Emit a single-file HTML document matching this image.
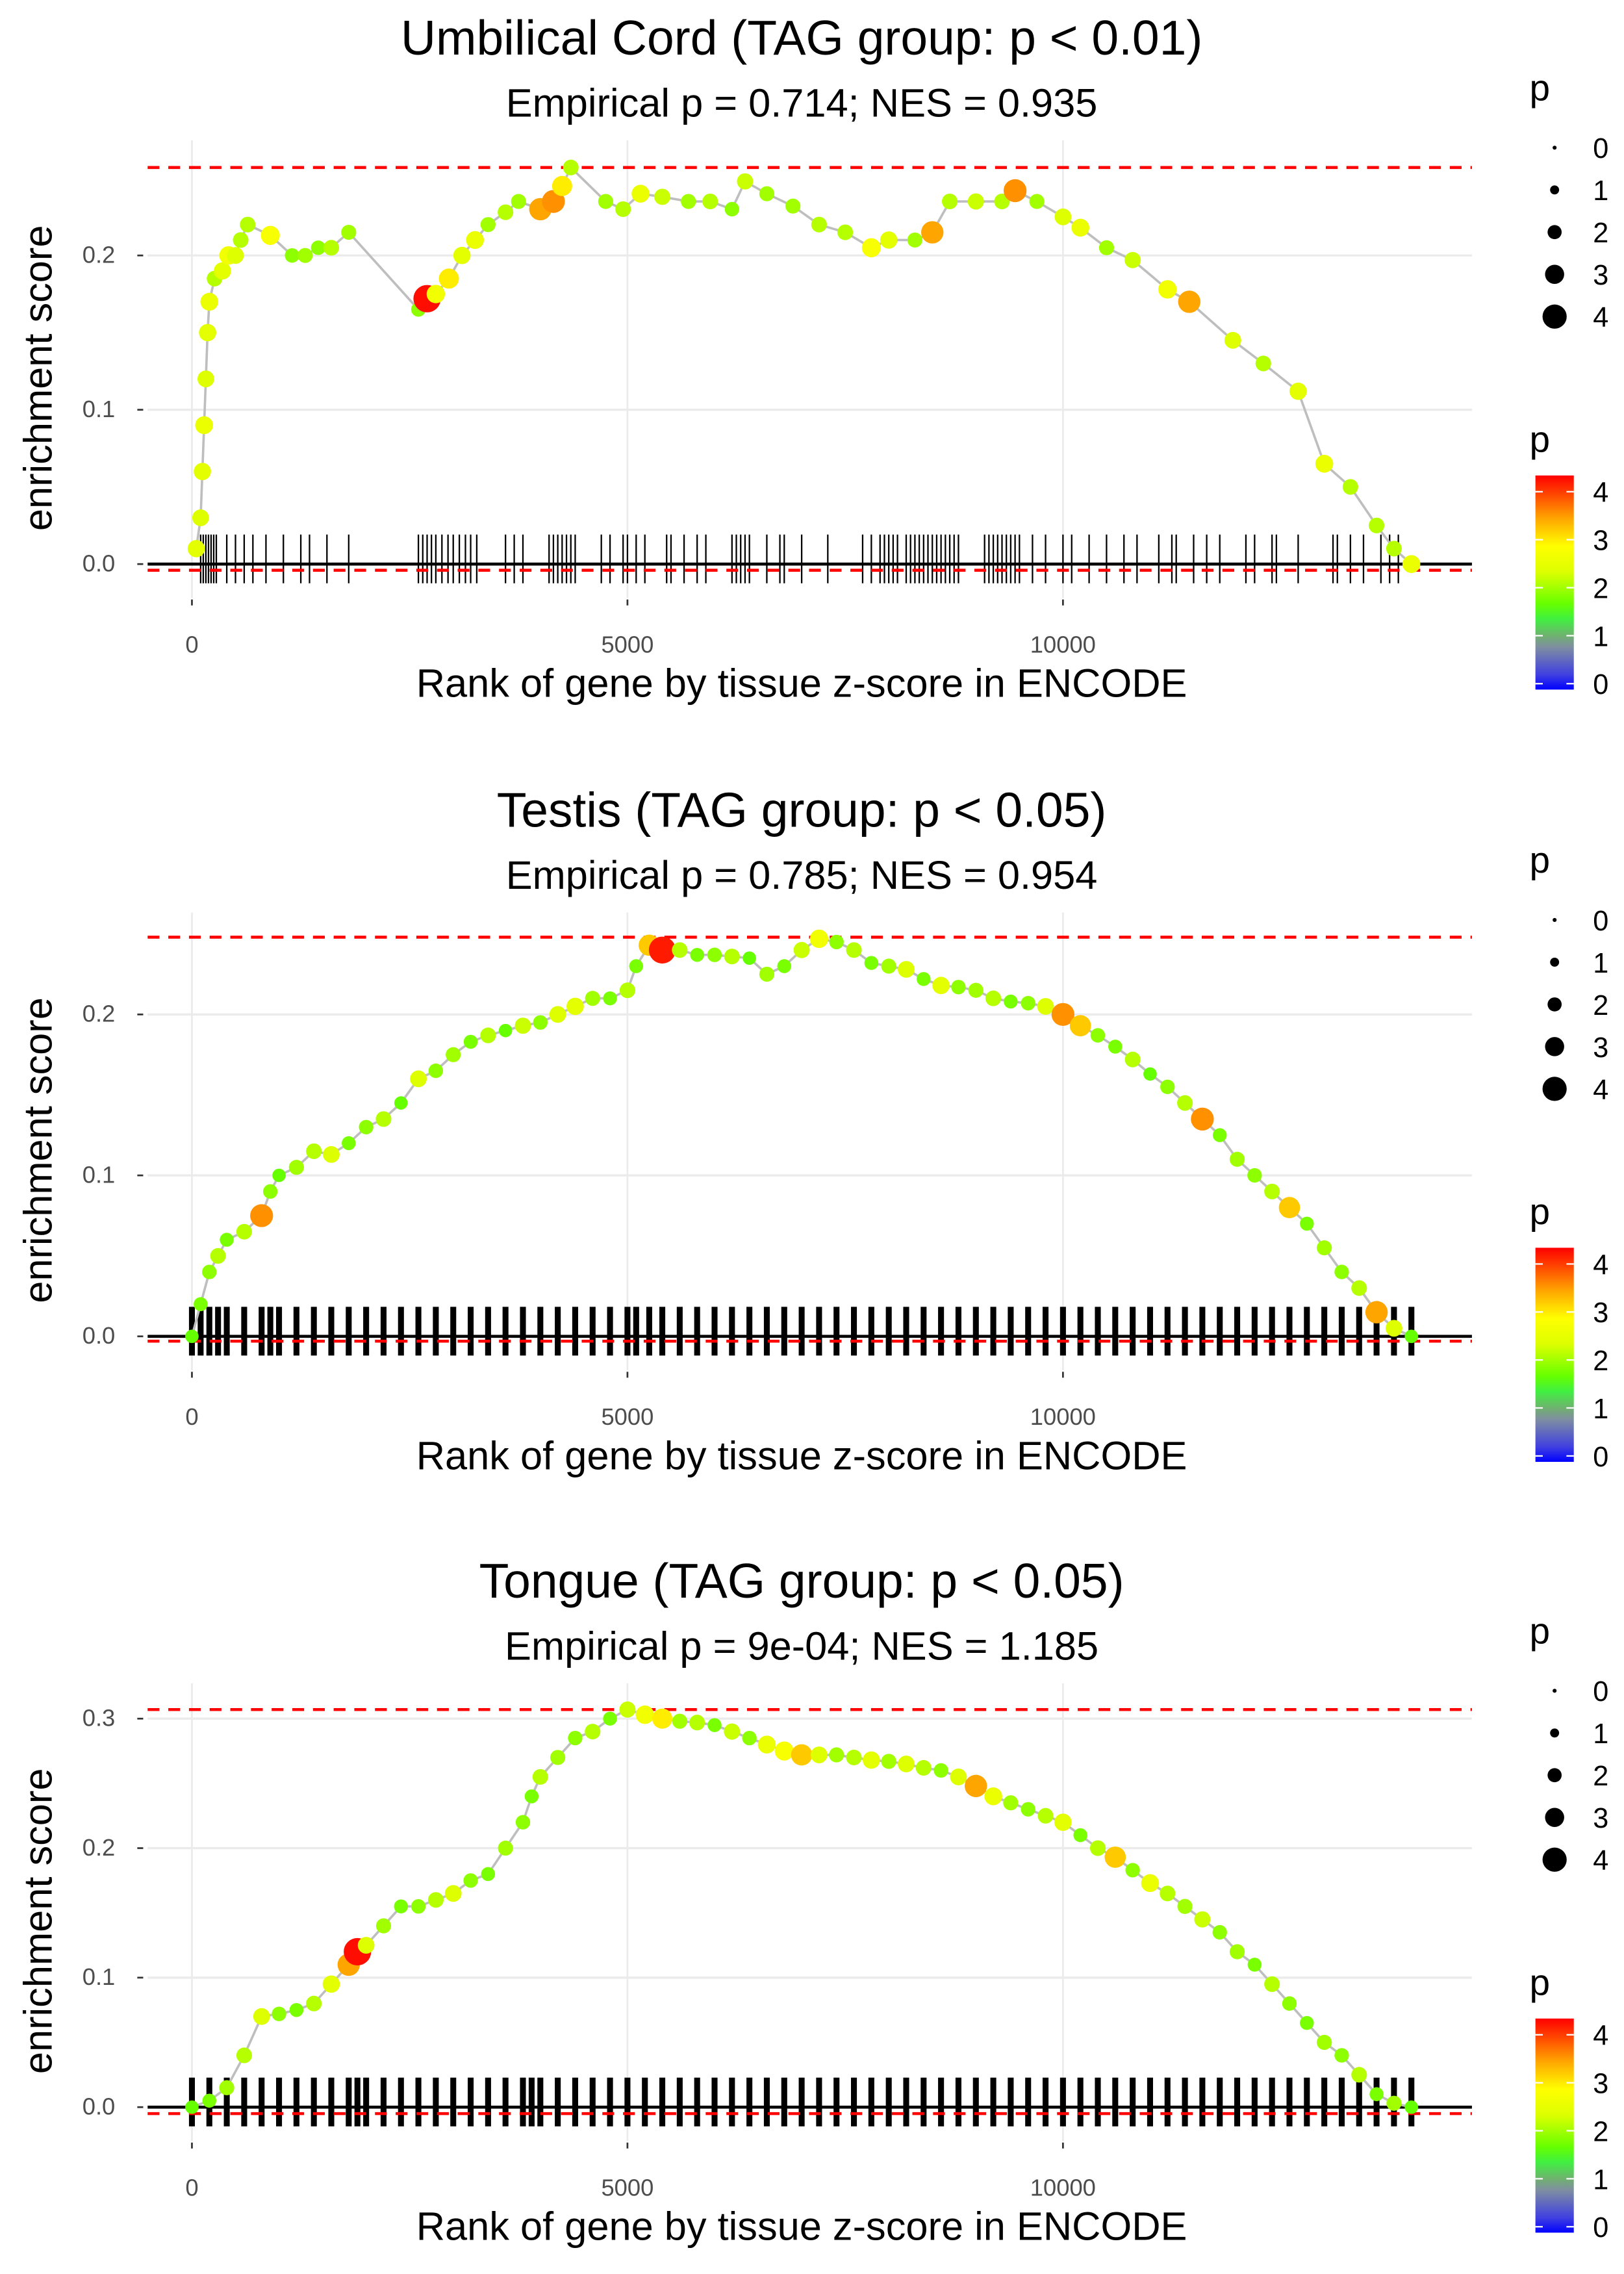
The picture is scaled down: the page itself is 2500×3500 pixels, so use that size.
<!DOCTYPE html>
<html><head><meta charset="utf-8"><style>
html,body{margin:0;padding:0;background:#fff;}
svg{display:block;font-family:"Liberation Sans",sans-serif;}
</style></head><body>
<svg id="chart" width="2500" height="3500" viewBox="0 0 1100 1540" preserveAspectRatio="none" xmlns="http://www.w3.org/2000/svg">
<defs>
<linearGradient id="pgrad" x1="0" y1="1" x2="0" y2="0">
<stop offset="0" stop-color="#0000ff"/>
<stop offset="0.07" stop-color="#4040e0"/>
<stop offset="0.2" stop-color="#7f8fa0"/>
<stop offset="0.25" stop-color="#70b070"/>
<stop offset="0.33" stop-color="#40f040"/>
<stop offset="0.4" stop-color="#66ff00"/>
<stop offset="0.55" stop-color="#ddff00"/>
<stop offset="0.67" stop-color="#ffff00"/>
<stop offset="0.8" stop-color="#ffa500"/>
<stop offset="0.92" stop-color="#ff4000"/>
<stop offset="1" stop-color="#ff0000"/>
</linearGradient>
</defs>
</svg>
<script>
// ---- Panel 1: Umbilical Cord ----
const ranks1=[50,100,120,140,160,180,200,260,350,420,500,560,640,900,1150,1300,1450,1600,1800,2600,2700,2800,2950,3100,3250,3400,3600,3750,4000,4150,4250,4350,4750,4950,5150,5400,5700,5950,6200,6350,6600,6900,7200,7500,7800,8000,8300,8500,8700,9000,9300,9450,9700,10000,10200,10500,10800,11200,11450,11950,12300,12700,13000,13300,13600,13800,14000];
const es1=[0.01,0.03,0.06,0.09,0.12,0.15,0.17,0.185,0.19,0.2,0.2,0.21,0.22,0.213,0.2,0.2,0.205,0.205,0.215,0.165,0.172,0.175,0.185,0.2,0.21,0.22,0.228,0.235,0.23,0.235,0.245,0.257,0.235,0.23,0.24,0.238,0.235,0.235,0.23,0.248,0.24,0.232,0.22,0.215,0.205,0.21,0.21,0.215,0.235,0.235,0.235,0.242,0.235,0.225,0.218,0.205,0.197,0.178,0.17,0.145,0.13,0.112,0.065,0.05,0.025,0.01,0.0];
const p1=[2.3,2.2,2.3,2.4,2.2,2.3,2.4,2.0,2.3,2.5,2.2,2.0,2.0,2.6,1.8,1.9,1.8,2.0,1.9,1.8,4.1,2.5,2.8,2.3,2.4,1.9,2.0,1.9,3.2,3.3,2.8,2.0,1.9,2.0,2.4,2.1,1.9,2.0,1.8,2.1,1.9,1.9,2.0,2.0,2.6,2.3,1.9,3.2,2.0,2.1,2.0,3.3,1.9,2.2,2.4,1.9,2.1,2.5,3.2,2.2,2.0,2.3,2.4,2.0,2.0,2.0,2.4];
const hits1=[100,130,160,190,220,250,280,400,500,600,700,850,1050,1250,1350,1550,1800,2600,2650,2700,2750,2800,2870,2940,3000,3070,3140,3200,3270,3600,3700,3800,4100,4150,4200,4250,4300,4350,4400,4700,4800,4950,5000,5100,5200,5450,5500,5650,5800,5900,6200,6250,6300,6350,6400,6600,6750,6800,7000,7300,7700,7800,7900,7950,8000,8050,8100,8200,8250,8300,8350,8400,8450,8500,8550,8600,8650,8700,8750,8800,9100,9150,9200,9250,9300,9350,9400,9450,9500,9650,9800,10000,10100,10300,10500,10700,10850,11100,11250,11300,11500,11650,11800,12100,12200,12400,12450,12700,13100,13150,13300,13450,13650,13750,13850];
const yTicks1=[0.0,0.1,0.2];
const bounds1=[-0.004,0.257];
// ---- Panel 2: Testis ----
const ranks2=[0,100,200,300,400,600,800,900,1000,1200,1400,1600,1800,2000,2200,2400,2600,2800,3000,3200,3400,3600,3800,4000,4200,4400,4600,4800,5000,5100,5250,5400,5600,5800,6000,6200,6400,6600,6800,7000,7200,7400,7600,7800,8000,8200,8400,8600,8800,9000,9200,9400,9600,9800,10000,10200,10400,10600,10800,11000,11200,11400,11600,11800,12000,12200,12400,12600,12800,13000,13200,13400,13600,13800,14000];
const es2=[0,0.02,0.04,0.05,0.06,0.065,0.075,0.09,0.1,0.105,0.115,0.113,0.12,0.13,0.135,0.145,0.16,0.165,0.175,0.183,0.187,0.19,0.193,0.195,0.2,0.205,0.21,0.21,0.215,0.23,0.243,0.24,0.24,0.237,0.237,0.236,0.235,0.225,0.23,0.24,0.247,0.245,0.24,0.232,0.23,0.228,0.222,0.218,0.217,0.215,0.21,0.208,0.207,0.205,0.2,0.193,0.187,0.18,0.172,0.163,0.155,0.145,0.135,0.125,0.11,0.1,0.09,0.08,0.07,0.055,0.04,0.03,0.015,0.005,0];
const p2=[1.6,1.7,1.8,2.0,1.7,2.0,3.3,1.8,1.6,1.9,2.0,2.2,1.7,1.8,2.0,1.6,2.2,1.8,1.9,1.7,2.0,1.6,2.1,1.8,2.2,2.3,1.9,1.7,2.0,1.7,3.0,4.0,2.0,1.7,1.8,2.0,1.6,1.9,1.7,2.1,2.5,1.8,2.0,1.7,1.9,2.2,1.7,2.3,1.8,1.9,2.0,1.7,1.8,2.2,3.3,3.0,1.8,1.7,2.0,1.6,1.8,2.0,3.3,1.7,1.9,1.8,2.0,3.0,1.7,1.9,1.8,2.0,3.2,2.2,1.6];
const yTicks2=[0.0,0.1,0.2];
const bounds2=[-0.003,0.248];
// ---- Panel 3: Tongue ----
const ranks3=[0,200,400,600,800,1000,1200,1400,1600,1800,1900,2000,2200,2400,2600,2800,3000,3200,3400,3600,3800,3900,4000,4200,4400,4600,4800,5000,5200,5400,5600,5800,6000,6200,6400,6600,6800,7000,7200,7400,7600,7800,8000,8200,8400,8600,8800,9000,9200,9400,9600,9800,10000,10200,10400,10600,10800,11000,11200,11400,11600,11800,12000,12200,12400,12600,12800,13000,13200,13400,13600,13800,14000];
const es3=[0,0.005,0.015,0.04,0.07,0.072,0.075,0.08,0.095,0.11,0.12,0.125,0.14,0.155,0.155,0.16,0.165,0.175,0.18,0.2,0.22,0.24,0.255,0.27,0.285,0.29,0.3,0.307,0.303,0.3,0.298,0.297,0.295,0.29,0.285,0.28,0.275,0.272,0.272,0.272,0.27,0.268,0.267,0.265,0.262,0.26,0.255,0.248,0.24,0.235,0.23,0.225,0.22,0.21,0.2,0.193,0.183,0.173,0.165,0.155,0.145,0.135,0.12,0.11,0.095,0.08,0.065,0.05,0.04,0.025,0.01,0.003,0];
const p3=[1.6,1.7,1.9,2.0,2.2,1.8,1.7,2.0,2.3,3.2,4.1,2.2,1.9,1.7,1.8,2.0,2.2,1.8,1.7,1.9,1.8,1.7,2.0,1.9,1.8,2.0,1.7,2.1,2.5,2.8,1.9,2.0,1.7,2.1,1.8,2.4,2.6,3.0,2.2,1.9,2.0,2.3,1.9,2.2,2.0,1.8,2.2,3.2,2.4,1.9,1.8,2.0,2.3,1.7,2.0,3.0,1.8,2.4,2.0,1.9,2.1,1.8,1.9,1.7,2.0,1.8,1.7,1.9,1.8,2.0,1.7,1.9,1.6];
const yTicks3=[0.0,0.1,0.2,0.3];
const bounds3=[-0.005,0.307];

const titles=["Umbilical Cord (TAG group: p < 0.01)","Testis (TAG group: p < 0.05)","Tongue (TAG group: p < 0.05)"];
const subtitles=["Empirical p = 0.714; NES = 0.935","Empirical p = 0.785; NES = 0.954","Empirical p = 9e-04; NES = 1.185"];
const xTicks=[0,5000,10000];
const legendVals=[0,1,2,3,4];

const NS="http://www.w3.org/2000/svg";
const svg=document.getElementById('chart');
function mk(tag,attrs,parent){const e=document.createElementNS(NS,tag);for(const k in attrs)e.setAttribute(k,attrs[k]);(parent||svg).appendChild(e);return e;}
const cstops=[[0,[0,0,255]],[0.3,[64,64,224]],[0.8,[127,143,160]],[1.0,[112,176,112]],[1.3,[64,240,64]],[1.6,[102,255,0]],[2.2,[221,255,0]],[2.7,[255,255,0]],[3.2,[255,165,0]],[3.7,[255,64,0]],[4.2,[255,0,0]]];
function pcol(v){for(let i=1;i<cstops.length;i++){if(v<=cstops[i][0]){const a=cstops[i-1],b=cstops[i];const t=(v-a[0])/(b[0]-a[0]);const c=a[1].map((x,j)=>Math.round(x+(b[1][j]-x)*t));return `rgb(${c})`;}}return 'rgb(255,0,0)';}
function prad(v){return 1.5+1.9*v;}

const panels=[
 {ranks:ranks1,es:es1,p:p1,hits:hits1,yt:yTicks1,b:bounds1,off:0,y0:382,per:104.5,tw:1},
 {ranks:ranks2,es:es2,p:p2,hits:ranks2,yt:yTicks2,b:bounds2,off:523,y0:905,per:109,tw:4},
 {ranks:ranks3,es:es3,p:p3,hits:ranks3,yt:yTicks3,b:bounds3,off:1045,y0:1427,per:87.7,tw:4}
];
const xs=r=>130+r*295/5000;
panels.forEach((P,i)=>{
 const g=mk('g',{});
 
 
 const ys=v=>P.y0-v*P.per/0.1;
 const top=95+P.off,bot=405+P.off;
 xTicks.forEach(t=>{const l=mk('line',{x1:xs(t),x2:xs(t),y1:top,y2:bot,stroke:'#ebebeb','stroke-width':1.2},g);});
 P.yt.forEach(t=>{const l=mk('line',{x1:100,x2:997,y1:ys(t),y2:ys(t),stroke:'#ebebeb','stroke-width':1.5},g);});
 P.hits.forEach(r=>{const l=mk('line',{x1:xs(r),x2:xs(r),y1:ys(0.0)-20,y2:ys(0.0)+13,stroke:'#000','stroke-width':P.tw},g);});
 const z=mk('line',{x1:100,x2:997,y1:ys(0),y2:ys(0),stroke:'#000','stroke-width':2},g);
 P.b.forEach(v=>{const l=mk('line',{x1:100,x2:997,y1:ys(v),y2:ys(v),stroke:'#ff0000','stroke-width':2,'stroke-dasharray':'8,6'},g);});
 const pl=mk('polyline',{points:P.ranks.map((r,k)=>xs(r)+','+ys(P.es[k])).join(' '),fill:'none',stroke:'#bebebe','stroke-width':1.6},g);
 
 P.ranks.forEach((r,k)=>{const c=mk('circle',{cx:xs(r),cy:ys(P.es[k]),r:prad(P.p[k]),fill:pcol(P.p[k])},g);});
 P.yt.forEach(t=>{
  const tx=mk('text',{x:78,y:ys(t)+5,'text-anchor':'end','font-size':16,fill:'#4d4d4d'},g);tx.textContent=t.toFixed(1);
  const tk=mk('line',{x1:93,x2:97,y1:ys(t),y2:ys(t),stroke:'#333','stroke-width':1.2},g);});
 xTicks.forEach(t=>{
  const tx=mk('text',{x:xs(t),y:442+P.off,'text-anchor':'middle','font-size':16,fill:'#4d4d4d'},g);tx.textContent=t;
  const tk=mk('line',{x1:xs(t),x2:xs(t),y1:406+P.off,y2:410+P.off,stroke:'#333','stroke-width':1.2},g);});
 const xt=mk('text',{x:543,y:472+P.off,'text-anchor':'middle','font-size':27,fill:'#000'},g);xt.textContent='Rank of gene by tissue z-score in ENCODE';
 const yt=mk('text',{x:0,y:0,transform:`translate(35,${256+P.off}) rotate(-90)`,'text-anchor':'middle','font-size':27,fill:'#000'},g);yt.textContent='enrichment score';
 const ti=mk('text',{x:543,y:37+P.off,'text-anchor':'middle','font-size':33,fill:'#000'},g);ti.textContent=titles[i];
 const st=mk('text',{x:543,y:79+P.off,'text-anchor':'middle','font-size':27,fill:'#000'},g);st.textContent=subtitles[i];
 const sl=mk('text',{x:1036,y:68+P.off,'font-size':25,fill:'#000'},g);sl.textContent='p';
 legendVals.forEach((v,k)=>{const y=100+k*28.6+P.off;
  const c=mk('circle',{cx:1053,cy:y,r:prad(v)*0.9,fill:'#000'},g);
  const t=mk('text',{x:1079,y:y+7,'font-size':19,fill:'#000'},g);t.textContent=v;});
 const cl=mk('text',{x:1036,y:306+P.off,'font-size':25,fill:'#000'},g);cl.textContent='p';
 const bar=mk('rect',{x:1040,y:322+P.off,width:26,height:145,fill:'url(#pgrad)'},g);
 legendVals.forEach(v=>{const y=463-v*32.5+P.off;
  const a=mk('line',{x1:1040,x2:1045,y1:y,y2:y,stroke:'#fff','stroke-width':1},g);
  const b=mk('line',{x1:1061,x2:1066,y1:y,y2:y,stroke:'#fff','stroke-width':1},g);
  const t=mk('text',{x:1079,y:y+7,'font-size':19,fill:'#000'},g);t.textContent=v;});
});
</script>
</body></html>
